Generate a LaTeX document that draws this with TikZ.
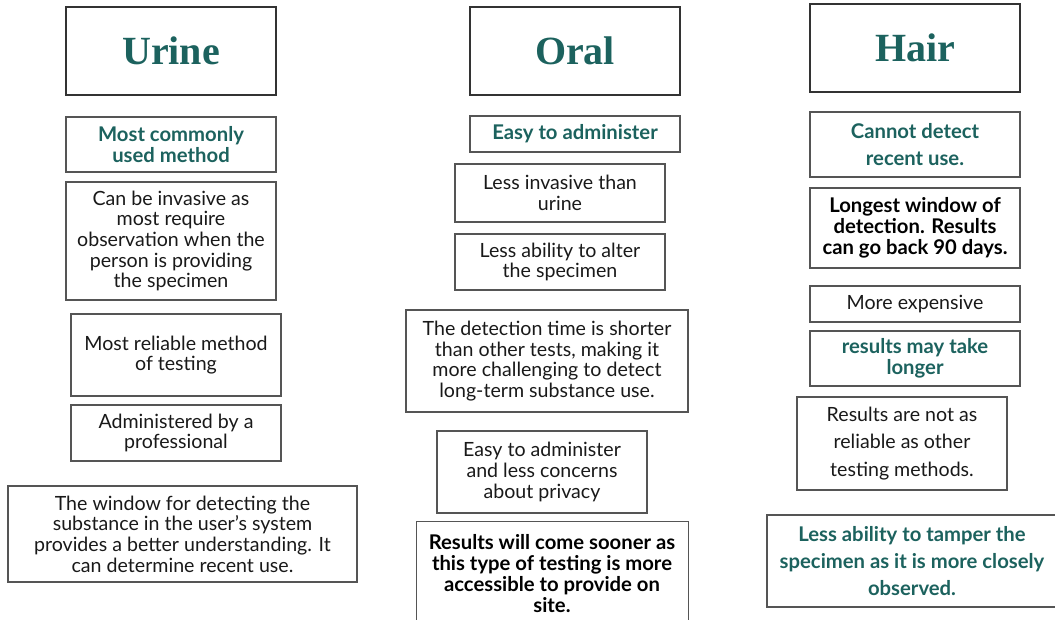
\documentclass[tikz,border=0pt]{standalone}
\usepackage{fontspec}
\setmainfont{Lato}
\newfontfamily\titlefont{Liberation Serif}
\definecolor{teal1}{RGB}{28,98,94}
\definecolor{edge}{RGB}{85,85,85}
\tikzset{
  box/.style={draw=edge, line width=1.1pt, align=center, inner sep=0pt, font=\fontsize{14.7}{15.5}\selectfont, text=black!90},
  titlebox/.style={draw=black!80, line width=1.5pt, align=center, inner sep=0pt, font=\titlefont\bfseries\fontsize{30}{36}\selectfont, text=teal1},
  tealbold/.style={font=\bfseries\fontsize{15.2}{15.8}\selectfont, text=teal1},
  blackbold/.style={font=\bfseries\fontsize{15.2}{15.8}\selectfont, text=black},
}
\newcommand\mybox[7]{\node[#6, minimum width={(#4-#2)*0.75pt}, minimum height={(#5-#3)*0.75pt}] (#1) at ({(#2+#4)/2},{(#3+#5)/2}) {#7};}
\begin{document}
\begin{tikzpicture}[x=0.75pt,y=-0.75pt]
\useasboundingbox (0,0) rectangle (1055,620);
% titles
\mybox{urine}{66}{7}{276}{95}{titlebox}{Urine}
\mybox{oral}{470}{7}{680}{95}{titlebox}{Oral}
\mybox{hair}{810}{4}{1020}{92}{titlebox}{Hair}
% urine column
\mybox{u1}{66}{117}{276}{172}{box,tealbold}{Most commonly\\used method}
\mybox{u2}{66}{182}{276}{300}{box}{Can be invasive as\\most require\\observation when the\\person is providing\\the specimen}
\mybox{u3}{71}{314}{281}{396}{box}{Most reliable method\\of testing}
\mybox{u4}{71}{405}{281}{461}{box}{Administered by a\\professional}
\mybox{u5}{8}{486}{357}{582}{box}{The window for detecting the\\substance in the user\char"0027 s system\\provides a better understanding. It\\can determine recent use.}
% oral column
\mybox{o1}{470}{116}{680}{152}{box,tealbold}{Easy to administer}
\mybox{o2}{455}{164}{665}{222}{box}{Less invasive than\\urine}
\mybox{o3}{455}{234}{665}{290}{box}{Less ability to alter\\the specimen}
\mybox{o4}{406}{310}{688}{412}{box}{The detection time is shorter\\than other tests, making it\\more challenging to detect\\long-term substance use.}
\mybox{o5}{437}{431}{647}{513}{box}{Easy to administer\\and less concerns\\about privacy}
\node[box, minimum width={(688-416)*0.75pt}, minimum height={(624-521)*0.75pt}, anchor=north west] (o6) at (416,521) {};
\node[blackbold, align=center, anchor=north] (o6t) at (552,530) {Results will come sooner as\\this type of testing is more\\accessible to provide on\\site.};
% hair column
\mybox{h1}{810}{112}{1020}{177}{box,tealbold,font=\bfseries\fontsize{15.2}{20.5}\selectfont}{Cannot detect\\recent use.}
\mybox{h2}{810}{188}{1020}{268}{box,blackbold}{Longest window of\\detection. Results\\can go back 90 days.}
\mybox{h3}{810}{286}{1020}{322}{box}{More expensive}
\mybox{h4}{810}{331}{1020}{386}{box,tealbold}{results may take\\longer}
\mybox{h5}{797}{397}{1007}{490}{box,font=\fontsize{14.7}{20.5}\selectfont}{Results are not as\\reliable as other\\testing methods.}
\mybox{h6}{767}{515}{1057}{607}{box,tealbold,font=\bfseries\fontsize{15.2}{20.5}\selectfont}{Less ability to tamper the\\specimen as it is more closely\\observed.}
\end{tikzpicture}
\end{document}
